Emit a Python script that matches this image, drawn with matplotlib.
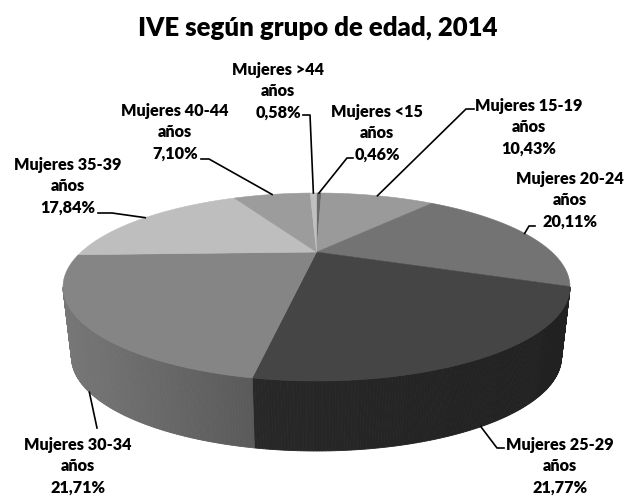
import numpy as np
import matplotlib
matplotlib.use('Agg')
import matplotlib.pyplot as plt
from matplotlib.patches import Polygon

plt.rcParams['font.family'] = ['Lato', 'DejaVu Sans']

# datos (porcentajes), en el orden en que aparecen desde arriba, sentido horario
grupos = ['Mujeres <15\naños', 'Mujeres 15-19\naños', 'Mujeres 20-24\naños',
          'Mujeres 25-29\naños', 'Mujeres 30-34\naños', 'Mujeres 35-39\naños',
          'Mujeres 40-44\naños', 'Mujeres >44\naños']
porcentajes = [0.46, 10.43, 20.11, 21.77, 21.71, 17.84, 7.10, 0.58]
grises = [106, 154, 115, 69, 133, 190, 156, 192]

# posicion de los textos (centro) y punto de arranque de la linea guia
pos_texto = [(377, 133), (529, 127), (570, 200), (560, 466),
             (78, 466), (68, 186), (175, 132), (278, 91)]
guia = [[(353, 158), (347, 158)], [(474, 109), (466, 109)],
        [(535, 226), (529, 226)], [(504, 448), (497, 448)],
        [(97, 428)], [(98, 213), (112, 213)],
        [(201, 159), (209, 159)], [(303, 115), (310, 115)]]

# geometria del "pastel 3D"
cx, cy = 316.5, 287.0
rx, ry = 253.5, 94.0
rx_b, dz = 245.0, 70.0
c = 0.372  # desplazamiento del centro por la perspectiva


def proyectar(phi, abajo=False):
    # phi en grados, sentido horario desde arriba
    t = np.radians(phi)
    x, y = np.sin(t), np.cos(t)
    xp = x * np.sqrt(1 - c**2) / (1 + c * y)
    yp = (y + c) / (1 + c * y)
    if abajo:
        return cx + rx_b * xp, cy + dz - ry * yp, xp
    return cx + rx * xp, cy - ry * yp, xp


def sombra(gris, xp):
    a = np.interp(xp, [-1, -0.25, 1], [1.0, 0.78, 0.68])
    v = a * gris - 14
    return max(min(v, 255), 0) / 255.0


fig = plt.figure(figsize=(6.27, 4.96), dpi=100)
ax = fig.add_axes([0, 0, 1, 1])
ax.set_xlim(0, 627)
ax.set_ylim(496, 0)
ax.axis('off')

limites = np.concatenate([[0], np.cumsum(porcentajes)]) * 3.6
phi_izq = np.degrees(np.arccos(-c))
phi_der = 360 - phi_izq

# cara lateral
for i, g in enumerate(grises):
    a0 = max(limites[i], phi_izq)
    a1 = min(limites[i + 1], phi_der)
    if a1 <= a0:
        continue
    pasos = np.linspace(a0, a1, int((a1 - a0) / 0.5) + 2)
    for p0, p1 in zip(pasos[:-1], pasos[1:]):
        x0, y0, xp0 = proyectar(p0)
        x1, y1, xp1 = proyectar(p1)
        bx0, by0, _ = proyectar(p0, True)
        bx1, by1, _ = proyectar(p1, True)
        col = str(sombra(g, (xp0 + xp1) / 2))
        ax.add_patch(Polygon([(x0, y0), (x1, y1), (bx1, by1), (bx0, by0)],
                             closed=True, facecolor=col, edgecolor=col, lw=0.6))

# cara superior
centro = (cx, cy - ry * c)
for i, g in enumerate(grises):
    ang = np.linspace(limites[i], limites[i + 1], 60)
    pts = [centro] + [proyectar(a)[:2] for a in ang]
    col = str(g / 255.0)
    ax.add_patch(Polygon(pts, closed=True, facecolor=col, edgecolor=col, lw=0.4))

# etiquetas y lineas guia
for i, nombre in enumerate(grupos):
    medio = (limites[i] + limites[i + 1]) / 2
    abajo = phi_izq < medio < phi_der
    px, py, _ = proyectar(medio, abajo)
    pts = guia[i] + [(px, py)]
    ax.plot([p[0] for p in pts], [p[1] for p in pts], color='black', lw=1.2)
    texto = nombre + '\n' + ('%.2f%%' % porcentajes[i]).replace('.', ',')
    ax.text(pos_texto[i][0], pos_texto[i][1], texto, ha='center', va='center',
            fontsize=11.7, fontweight='heavy', linespacing=1.4)

ax.text(318, 28, 'IVE según grupo de edad, 2014', ha='center', va='center',
        fontsize=18.5, fontweight='heavy')

fig.savefig('out.png', dpi=100)
